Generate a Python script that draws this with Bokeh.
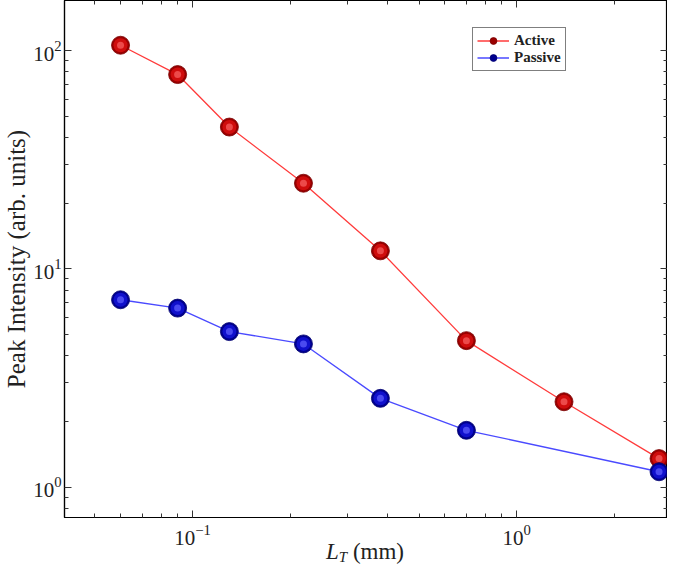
from bokeh.plotting import figure
from bokeh.layouts import column
from bokeh.models import (LogAxis, FixedTicker, Legend, LegendItem, Div,
                          LogTickFormatter, Range1d, CustomJSTickFormatter)
from bokeh.embed import file_html
from bokeh.resources import INLINE

# ---- data ----
active_x = [0.060, 0.090, 0.130, 0.220, 0.380, 0.70, 1.40, 2.75]
active_y = [106.0, 77.8, 44.7, 24.7, 12.1, 4.69, 2.46, 1.35]
passive_x = [0.060, 0.090, 0.130, 0.220, 0.380, 0.70, 2.75]
passive_y = [7.22, 6.61, 5.16, 4.53, 2.55, 1.82, 1.175]

x_major = [0.1, 1.0]
y_major = [1.0, 10.0, 100.0]
x_minor = [m * d for d in (0.01, 0.1, 1.0) for m in range(2, 10)]
y_minor = [m * d for d in (0.1, 1.0, 10.0, 100.0) for m in range(2, 10)]

FONT = "Liberation Serif"
TXT = "#222222"

p = figure(x_axis_type="log", y_axis_type="log",
           x_range=Range1d(0.0403, 2.92), y_range=Range1d(0.725, 170.0),
           width=667, height=548,
           min_border_left=56, min_border_top=0, min_border_right=0,
           min_border_bottom=31,
           output_backend="svg", toolbar_location=None,
           x_axis_label="", y_axis_label="Peak Intensity (arb. units)")
p.xgrid.visible = False
p.ygrid.visible = False
p.outline_line_color = "black"
p.outline_line_width = 1.2
p.background_fill_color = "white"
p.border_fill_color = "white"

def style_axis(ax, ticks, minor):
    ax.ticker = FixedTicker(ticks=ticks, minor_ticks=minor)
    ax.axis_line_color = "black"
    ax.axis_line_width = 1.2
    ax.major_tick_in = 7
    ax.major_tick_out = 0
    ax.minor_tick_in = 4
    ax.minor_tick_out = 0
    ax.major_tick_line_color = "#333333"
    ax.minor_tick_line_color = "#333333"
    ax.major_label_text_font = FONT
    ax.major_label_text_font_size = "21px"
    ax.major_label_text_color = TXT
    ax.axis_label_text_font = FONT
    ax.axis_label_text_font_style = "normal"
    ax.axis_label_text_font_size = "25px"
    ax.axis_label_text_color = TXT

style_axis(p.xaxis[0], x_major, x_minor)
style_axis(p.yaxis[0], y_major, y_minor)
p.xaxis[0].formatter = LogTickFormatter()
p.yaxis[0].formatter = LogTickFormatter()
p.xaxis[0].major_label_standoff = 7
p.yaxis[0].major_label_standoff = 3
p.yaxis[0].axis_label_standoff = 0

blank = CustomJSTickFormatter(code="return ''")
for side, ticks, minor in (("above", x_major, x_minor), ("right", y_major, y_minor)):
    ax = LogAxis()
    style_axis(ax, ticks, minor)
    ax.formatter = blank
    ax.major_label_standoff = 0
    ax.major_label_text_font_size = "1px"
    p.add_layout(ax, side)

# ---- series ----
ra_line = p.line(active_x, active_y, line_color="#ff3b3b", line_width=1.3)
ra_pts = p.scatter(active_x, active_y, size=18, fill_color="#9a0000",
                   line_color="#7a0000", line_width=0.8)
p.scatter(active_x, active_y, size=14, fill_color="#cf0d0d", line_color=None)
p.scatter(active_x, active_y, size=7, fill_color="#ec4a4a", line_color=None)
rp_line = p.line(passive_x, passive_y, line_color="#4a4aff", line_width=1.3)
rp_pts = p.scatter(passive_x, passive_y, size=18, fill_color="#00008f",
                   line_color="#00006e", line_width=0.8)
p.scatter(passive_x, passive_y, size=14, fill_color="#1010cc", line_color=None)
p.scatter(passive_x, passive_y, size=7, fill_color="#4a4af0", line_color=None)

legend = Legend(items=[LegendItem(label="Active", renderers=[ra_line, ra_pts]),
                       LegendItem(label="Passive", renderers=[rp_line, rp_pts])],
                location=(408, 446))
legend.label_text_font = FONT
legend.label_text_font_style = "bold"
legend.label_text_font_size = "15px"
legend.label_text_color = TXT
legend.border_line_color = "black"
legend.border_line_width = 1.2
legend.glyph_width = 32
legend.glyph_height = 17
legend.label_height = 17
legend.spacing = 0
legend.padding = 4
legend.margin = 0
legend.label_standoff = 5
legend.background_fill_alpha = 1
p.add_layout(legend, "center")

# ---- x axis label: L_T (mm) as real HTML text under the plot ----
xlabel = Div(
    text=('<div style="position:relative; top:-13px; padding-left:321px; '
          'font-family:\'Liberation Serif\'; font-size:23px; color:#222222; '
          'white-space:nowrap; line-height:24px;">'
          '<i>L</i><sub style="font-size:15px; vertical-align:-3px; line-height:0;">'
          '<i>T</i></sub>&nbsp;(mm)</div>'),
    width=667, height=19, styles={"overflow": "visible"})

layout = column(p, xlabel, spacing=0)
open("out.html", "w").write(file_html(layout, INLINE))
